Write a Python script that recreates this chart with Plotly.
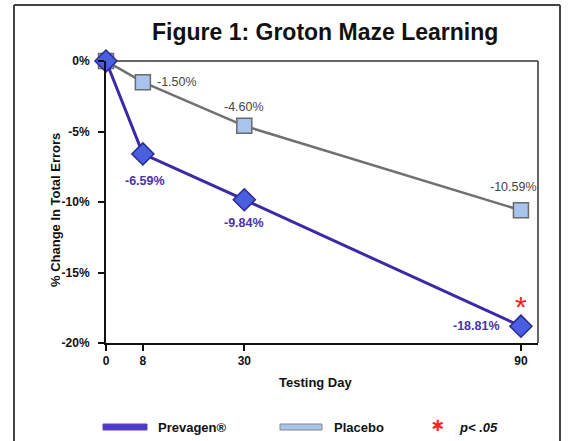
import plotly.graph_objects as go

days = [0, 8, 30, 90]
prevagen = [0.0, -6.59, -9.84, -18.81]
placebo = [0.0, -1.50, -4.60, -10.59]
x_ticks = [0, 8, 30, 90]
y_ticks = [0, -5, -10, -15, -20]
y_tick_labels = ["0%", "-5%", "-10%", "-15%", "-20%"]

FONT = "Liberation Sans Narrow, Arial Narrow, Liberation Sans, sans-serif"
PREV_LINE = "#3b2aa6"
PREV_FILL = "#4a5fe0"
PREV_TEXT = "#4a32a8"
PLAC_LINE = "#707070"
PLAC_FILL = "#a9c4ec"
PLAC_TEXT = "#454545"

L, R, T, B = 106, 32, 61, 98
W, H = 570, 441
PW, PH = W - L - R, H - T - B


def px(x):
    return (x - L) / PW


def py(y):
    return (H - B - y) / PH


fig = go.Figure()
fig.add_trace(go.Scatter(
    x=days, y=placebo, mode="lines+markers", name="Placebo",
    line=dict(color=PLAC_LINE, width=2.5),
    marker=dict(symbol="square", size=15, color=PLAC_FILL, line=dict(color="#6a6a6a", width=1.5)),
    cliponaxis=False, showlegend=False))
fig.add_trace(go.Scatter(
    x=days, y=prevagen, mode="lines+markers", name="Prevagen®",
    line=dict(color=PREV_LINE, width=3),
    marker=dict(symbol="diamond", size=17, color=PREV_FILL, line=dict(color="#2a2a8a", width=1.5)),
    cliponaxis=False, showlegend=False))

ann = []
# placebo labels
plac_shift = {8: dict(xanchor="left", xshift=12, yshift=0),
              30: dict(xanchor="center", xshift=0, yshift=19),
              90: dict(xanchor="center", xshift=-7, yshift=23)}
for d, v in zip(days, placebo):
    if d == 0:
        continue
    s = plac_shift[d]
    ann.append(dict(x=d, y=v, xref="x", yref="y", text=f"{v:.2f}%", showarrow=False,
                    font=dict(family=FONT, size=12.5, color=PLAC_TEXT),
                    xanchor=s["xanchor"], yanchor="middle", xshift=s["xshift"], yshift=s["yshift"]))
prev_shift = {8: dict(xanchor="center", xshift=2, yshift=-27),
              30: dict(xanchor="center", xshift=0, yshift=-23),
              90: dict(xanchor="right", xshift=-19, yshift=0)}
for d, v in zip(days, prevagen):
    if d == 0:
        continue
    s = prev_shift[d]
    ann.append(dict(x=d, y=v, xref="x", yref="y", text=f"<b>{v:.2f}%</b>", showarrow=False,
                    font=dict(family=FONT, size=12.5, color=PREV_TEXT),
                    xanchor=s["xanchor"], yanchor="middle", xshift=s["xshift"], yshift=s["yshift"]))
# significance asterisk
ann.append(dict(x=days[-1], y=prevagen[-1], xref="x", yref="y", text="*", showarrow=False,
                font=dict(family="Liberation Sans", size=30, color="#ff2020"),
                xanchor="center", yanchor="middle", yshift=20))

# title
ann.append(dict(x=px(325), y=py(32), xref="paper", yref="paper",
                text="<b>Figure 1: Groton Maze Learning</b>", showarrow=False,
                font=dict(family=FONT, size=23, color="#111"), xanchor="center", yanchor="middle"))
# axis titles
ann.append(dict(x=px(315), y=py(382), xref="paper", yref="paper", text="<b>Testing Day</b>",
                showarrow=False, font=dict(family=FONT, size=13, color="#111"),
                xanchor="center", yanchor="middle"))
ann.append(dict(x=px(55), y=py(210), xref="paper", yref="paper", text="<b>% Change In Total Errors</b>",
                showarrow=False, textangle=-90, font=dict(family=FONT, size=13, color="#111"),
                xanchor="center", yanchor="middle"))
# legend texts
ann.append(dict(x=px(156), y=py(427), xref="paper", yref="paper", text="<b>Prevagen®</b>",
                showarrow=False, font=dict(family=FONT, size=13, color="#111"),
                xanchor="left", yanchor="middle"))
ann.append(dict(x=px(332), y=py(427), xref="paper", yref="paper", text="<b>Placebo</b>",
                showarrow=False, font=dict(family=FONT, size=13, color="#111"),
                xanchor="left", yanchor="middle"))
ann.append(dict(x=px(437), y=py(425), xref="paper", yref="paper", text="<b>∗</b>",
                showarrow=False, font=dict(family="DejaVu Sans", size=18, color="#ff2020"),
                xanchor="center", yanchor="middle"))
ann.append(dict(x=px(457), y=py(427), xref="paper", yref="paper", text="<b><i>p< .05</i></b>",
                showarrow=False, font=dict(family=FONT, size=13, color="#111"),
                xanchor="left", yanchor="middle"))

shapes = [
    # outer frame
    dict(type="line", xref="paper", yref="paper", x0=px(14), x1=px(14), y0=py(5), y1=py(445),
         line=dict(color="#444", width=2)),
    dict(type="line", xref="paper", yref="paper", x0=px(560), x1=px(560), y0=py(5), y1=py(445),
         line=dict(color="#444", width=2)),
    dict(type="line", xref="paper", yref="paper", x0=px(14), x1=px(560), y0=py(5), y1=py(5),
         line=dict(color="#444", width=2)),
    # plot top / right borders
    dict(type="line", xref="paper", yref="paper", x0=0, x1=1, y0=1, y1=1,
         line=dict(color="#333", width=1.5), layer="below"),
    dict(type="line", xref="paper", yref="paper", x0=1, x1=1, y0=0, y1=1,
         line=dict(color="#333", width=1.5), layer="below"),
    # legend swatches
    dict(type="rect", xref="paper", yref="paper", x0=px(103), x1=px(147), y0=py(430), y1=py(424),
         fillcolor="#4a3cc8", line=dict(color="#6a3ab0", width=1)),
    dict(type="rect", xref="paper", yref="paper", x0=px(280), x1=px(322), y0=py(430), y1=py(424),
         fillcolor=PLAC_FILL, line=dict(color="#888", width=1)),
]

fig.update_layout(
    width=W, height=H,
    margin=dict(l=L, r=R, t=T, b=B),
    paper_bgcolor="white", plot_bgcolor="white",
    annotations=ann, shapes=shapes,
    font=dict(family=FONT, color="#111"),
    xaxis=dict(range=[0, 93.7], tickvals=x_ticks, ticktext=[str(t) for t in x_ticks],
               showgrid=False, zeroline=False, showline=True, linecolor="#111", linewidth=2,
               ticks="outside", ticklen=6, tickwidth=2, tickcolor="#111",
               tickfont=dict(family=FONT, size=12, color="#111", weight="bold"), fixedrange=True),
    yaxis=dict(range=[-20, 0], tickvals=y_ticks, ticktext=y_tick_labels,
               showgrid=False, zeroline=False, showline=True, linecolor="#111", linewidth=2,
               ticks="outside", ticklen=6, tickwidth=2, tickcolor="#111", ticklabelstandoff=6,
               tickfont=dict(family=FONT, size=12, color="#111", weight="bold"), fixedrange=True),
)

fig.write_html("out.html", config={"displayModeBar": False},
               post_script="document.body.style.margin='0';document.body.style.overflow='hidden';")
